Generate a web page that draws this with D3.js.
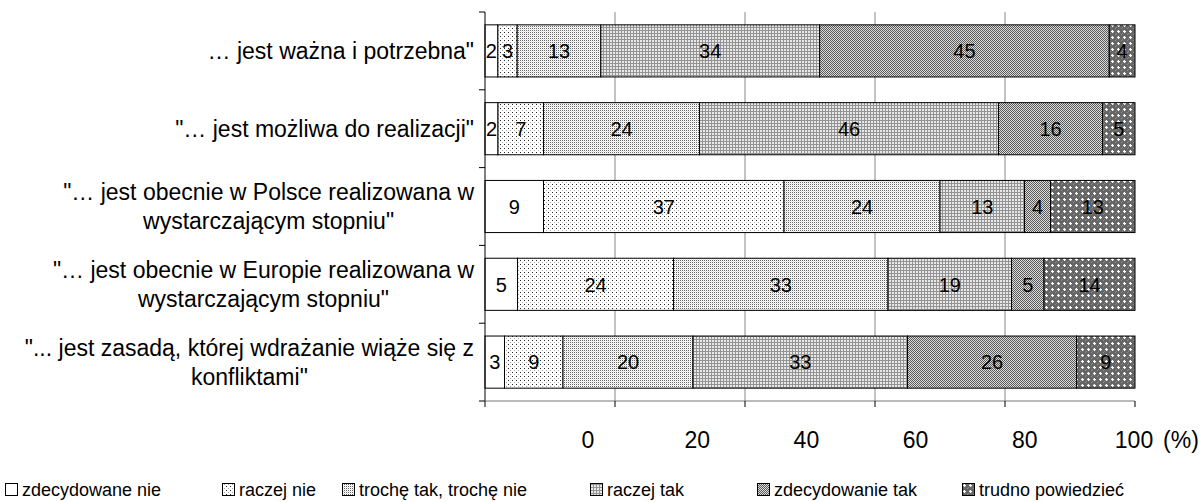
<!DOCTYPE html>
<html lang="pl">
<head>
    <meta charset="UTF-8">
    <title>Stacked bars</title>
    <script src="https://cdn.jsdelivr.net/npm/d3@7"></script>
    <style>
        body { margin: 0; background: #fff; }
        svg { display: block; font-family: "Liberation Sans", Arial, sans-serif; }
    </style>
</head>
<body>
<svg></svg>
<script>
    // dane
    let categories = [
        ['… jest ważna i potrzebna"'],
        ['"… jest możliwa do realizacji"'],
        ['"… jest obecnie w Polsce realizowana w', 'wystarczającym stopniu"'],
        ['"… jest obecnie w Europie realizowana w', 'wystarczającym stopniu"'],
        ['"... jest zasadą, której wdrażanie wiąże się z', 'konfliktami"']
    ];
    let seriesNames = ['zdecydowane nie', 'raczej nie', 'trochę tak, trochę nie', 'raczej tak', 'zdecydowanie tak', 'trudno powiedzieć'];
    let zdecydowaneNie = [2, 2, 9, 5, 3];
    let raczejNie = [3, 7, 37, 24, 9];
    let trocheTak = [13, 24, 24, 33, 20];
    let raczejTak = [34, 46, 13, 19, 33];
    let zdecydowanieTak = [45, 16, 4, 5, 26];
    let trudnoPowiedziec = [4, 5, 13, 14, 9];
    let tickValues = [0, 20, 40, 60, 80, 100];

    let series = [zdecydowaneNie, raczejNie, trocheTak, raczejTak, zdecydowanieTak, trudnoPowiedziec];

    let width = 1202, height = 502;
    let plotL = 485, plotR = 1135, plotT = 12, plotB = 401;

    let svg = d3.select('svg').attr('width', width).attr('height', height);

    // wzory wypełnień (czarno-białe jak w Excelu)
    let defs = svg.append('defs');
    function pattern(id, size, bg, dots) {
        let p = defs.append('pattern').attr('id', id)
            .attr('width', size).attr('height', size)
            .attr('patternUnits', 'userSpaceOnUse');
        p.append('rect').attr('width', size).attr('height', size).attr('fill', bg);
        dots.forEach(d => p.append('rect').attr('x', d[0]).attr('y', d[1])
            .attr('width', d[2] || 1).attr('height', d[3] || 1).attr('fill', d[4]));
    }
    pattern('p0', 4, '#fff', []);
    pattern('p1', 4, '#fff', [[0, 0, 1, 1, '#222'], [2, 2, 1, 1, '#aaa']]);
    pattern('p2', 2, '#fff', [[0, 0, 1, 1, '#666'], [1, 1, 1, 1, '#e4e4e4']]);
    pattern('p3', 3, '#e8e8e8', [[0, 0, 3, 1, '#939393'], [0, 0, 1, 3, '#939393']]);
    pattern('p4', 2, '#dcdcdc', [[0, 0, 1, 1, '#5a5a5a'], [1, 1, 1, 1, '#5a5a5a']]);
    pattern('p5', 6, '#666', [[1, 0, 1, 1, '#8c8c8c'], [3, 2, 1, 1, '#8c8c8c'], [5, 4, 1, 1, '#8c8c8c'],
        [0, 3, 1, 1, '#8c8c8c'], [2, 0, 1, 3, '#fff'], [1, 1, 3, 1, '#fff']]);

    let x = d3.scaleLinear().domain([0, 100]).range([plotL, plotR]);
    let y = d3.scaleBand().domain(d3.range(categories.length)).range([plotT, plotB]).paddingInner(0.33).paddingOuter(0.165);
    let band = d3.scaleBand().domain(d3.range(categories.length)).range([plotT, plotB]);

    // siatka
    svg.append('g').selectAll('line').data(tickValues.slice(1, -1)).enter().append('line')
        .attr('x1', d => x(d)).attr('x2', d => x(d))
        .attr('y1', plotT).attr('y2', plotB)
        .attr('stroke', '#888').attr('stroke-width', 1);

    // stos
    let rows = categories.map((c, i) => {
        let total = d3.sum(series, s => s[i]);
        let acc = 0;
        return series.map((s, k) => {
            let seg = { row: i, k: k, v: s[i], x0: acc / total * 100 };
            acc += s[i];
            seg.x1 = acc / total * 100;
            return seg;
        });
    });
    let segs = rows.flat();

    svg.append('g').selectAll('rect').data(segs).enter().append('rect')
        .attr('x', d => x(d.x0)).attr('width', d => x(d.x1) - x(d.x0))
        .attr('y', d => y(d.row)).attr('height', y.bandwidth())
        .attr('fill', d => 'url(#p' + d.k + ')')
        .attr('stroke', '#000').attr('stroke-width', 1);

    svg.append('g').selectAll('text').data(segs).enter().append('text')
        .attr('x', d => (x(d.x0) + x(d.x1)) / 2)
        .attr('y', d => y(d.row) + y.bandwidth() / 2)
        .attr('dy', '0.36em')
        .attr('text-anchor', 'middle')
        .attr('font-size', 20).attr('fill', '#000')
        .text(d => d.v);

    // oś Y
    let yAxis = svg.append('g');
    yAxis.append('line').attr('x1', plotL).attr('x2', plotL).attr('y1', plotT).attr('y2', plotB).attr('stroke', '#000');
    yAxis.selectAll('.tk').data(d3.range(categories.length + 1)).enter().append('line')
        .attr('x1', plotL - 6).attr('x2', plotL)
        .attr('y1', d => plotT + d * band.step()).attr('y2', d => plotT + d * band.step())
        .attr('stroke', '#000');

    let labels = svg.append('g').selectAll('text').data(categories).enter().append('text')
        .attr('font-size', 23).attr('fill', '#000').attr('text-anchor', 'middle');
    labels.each(function (lines, i) {
        let t = d3.select(this);
        let cy = band(i) + band.bandwidth() / 2;
        lines.forEach((l, j) => {
            t.append('tspan').text(l)
                .attr('y', cy + (j - (lines.length - 1) / 2) * 29)
                .attr('dy', '0.36em');
        });
        let w = d3.max(t.selectAll('tspan').nodes(), n => n.getComputedTextLength());
        t.selectAll('tspan').attr('x', 474 - w / 2);
    });

    // oś X
    let xAxis = svg.append('g');
    xAxis.append('line').attr('x1', plotL).attr('x2', plotR).attr('y1', plotB).attr('y2', plotB).attr('stroke', '#777');
    xAxis.selectAll('.tk').data(tickValues).enter().append('line')
        .attr('x1', d => x(d)).attr('x2', d => x(d))
        .attr('y1', plotB).attr('y2', plotB + 6).attr('stroke', '#000');
    let xLab = d3.scaleLinear().domain([0, 100]).range([588, 1134]);
    xAxis.selectAll('text').data(tickValues).enter().append('text')
        .attr('x', d => xLab(d)).attr('y', 440).attr('dy', '0.36em')
        .attr('text-anchor', 'middle').attr('font-size', 23)
        .text(d => d);
    xAxis.append('text').attr('x', 1181).attr('y', 440).attr('dy', '0.36em')
        .attr('text-anchor', 'middle').attr('font-size', 23).text('(%)');

    // legenda
    let legendX = [5, 222, 342, 590, 757, 962];
    let legend = svg.append('g').selectAll('g').data(seriesNames).enter().append('g')
        .attr('transform', (d, i) => 'translate(' + legendX[i] + ',490)');
    legend.append('rect').attr('x', 0.5).attr('y', -6.5).attr('width', 12).attr('height', 12)
        .attr('fill', (d, i) => 'url(#p' + i + ')').attr('stroke', '#000');
    legend.append('text').attr('x', 17).attr('dy', '0.36em').attr('font-size', 18).text(d => d);
</script>
</body>
</html>
